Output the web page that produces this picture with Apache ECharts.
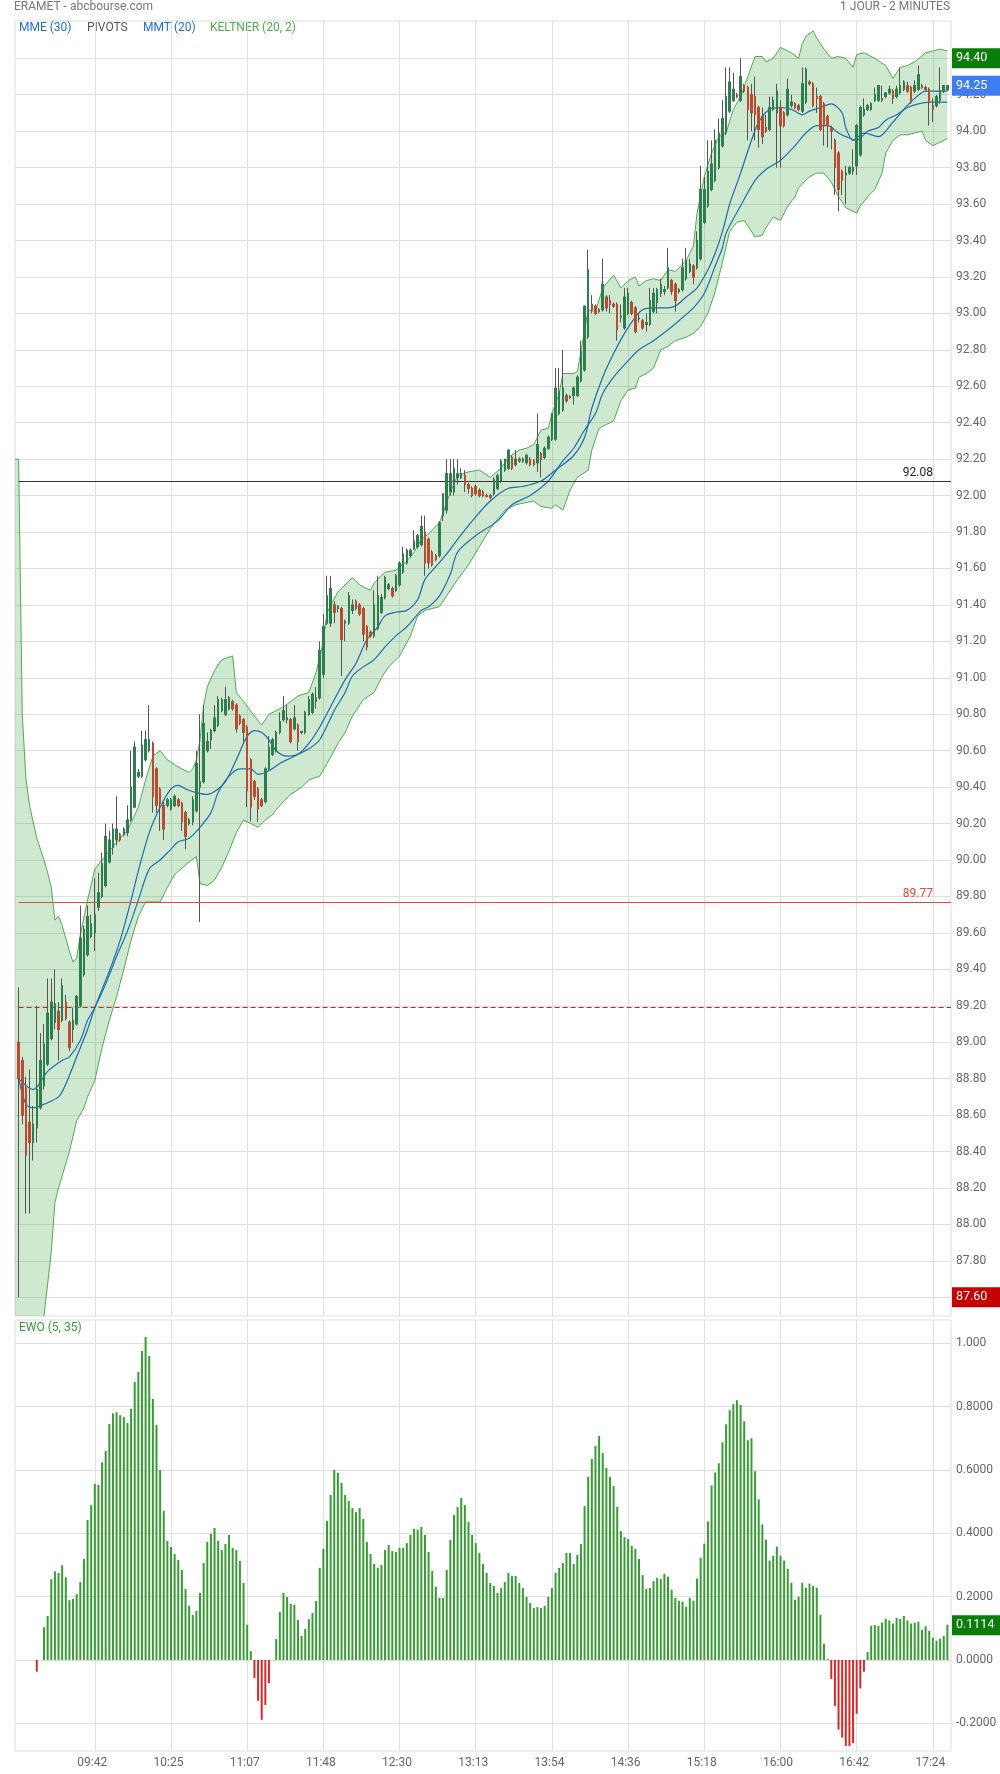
<!DOCTYPE html>
<html><head><meta charset="utf-8">
<script src="https://cdn.jsdelivr.net/npm/echarts@6/dist/echarts.min.js"></script>
<style>html,body{margin:0;padding:0;background:#fff}#c{width:1000px;height:1774px}</style>
</head><body><div id="c"></div>
<script>
// ---------- DATA ----------
const opens = [
89.00,88.90,88.75,88.56,88.45,88.53,88.64,88.76,88.88,89.02,
89.11,89.17,89.12,89.22,89.11,89.07,89.10,89.20,89.37,89.48,
89.58,89.60,89.74,89.80,89.86,89.99,90.07,90.11,90.14,90.14,
90.15,90.22,90.29,90.46,90.46,90.55,90.60,90.64,90.50,90.39,
90.30,90.30,90.28,90.30,90.33,90.31,90.26,90.20,90.21,90.27,
90.40,90.43,90.60,90.66,90.71,90.74,90.82,90.80,90.83,90.87,
90.85,90.79,90.77,90.73,90.55,90.43,90.39,90.33,90.32,90.50,
90.58,90.60,90.70,90.77,90.77,90.77,90.72,90.74,90.70,90.70,
90.80,90.81,90.87,90.89,91.02,91.30,91.30,91.40,91.38,91.38,
91.30,91.30,91.37,91.42,91.40,91.38,91.28,91.25,91.23,91.27,
91.36,91.44,91.49,91.49,91.48,91.51,91.58,91.63,91.67,91.71,
91.72,91.73,91.80,91.76,91.69,91.67,91.67,91.89,91.92,92.02,
92.02,92.10,92.10,92.11,92.06,92.04,92.05,92.03,92.02,92.00,
92.00,92.01,92.04,92.08,92.14,92.15,92.21,92.17,92.20,92.19,
92.18,92.20,92.19,92.18,92.23,92.21,92.26,92.31,92.31,92.45,
92.47,92.55,92.54,92.55,92.55,92.63,92.69,92.87,93.05,93.04,
93.02,93.02,93.09,93.07,93.05,93.05,92.98,92.92,93.00,93.06,
93.03,92.97,92.96,92.94,92.94,93.01,93.06,93.11,93.12,93.14,
93.18,93.16,93.12,93.13,93.19,93.23,93.26,93.25,93.30,93.50,
93.59,93.68,93.73,93.80,93.92,93.99,94.11,94.17,94.20,94.17,
94.25,94.24,94.20,94.19,94.13,94.08,94.02,94.01,94.12,94.10,
94.13,94.10,94.09,94.14,94.15,94.14,94.11,94.16,94.27,94.26,
94.19,94.19,94.15,94.08,94.02,93.95,93.88,93.78,93.76,93.77,
93.78,93.81,93.87,94.09,94.12,94.12,94.17,94.17,94.18,94.19,
94.21,94.22,94.19,94.21,94.23,94.25,94.24,94.22,94.23,94.25,
94.24,94.23,94.14,94.14,94.17,94.22,94.23];
const highs = [
89.30,88.92,88.81,88.85,88.65,89.20,89.05,89.10,89.35,89.35,
89.40,89.22,89.35,89.26,89.12,89.19,89.26,89.75,89.64,89.75,
89.70,89.90,89.93,90.04,90.20,90.16,90.20,90.35,90.15,90.18,
90.30,90.60,90.65,90.50,90.71,90.71,90.85,90.65,90.51,90.40,
90.32,90.34,90.34,90.36,90.34,90.32,90.27,90.23,90.35,90.60,
90.80,90.85,90.70,90.72,90.85,90.90,90.89,90.95,90.90,90.88,
90.86,90.80,90.78,90.74,90.56,90.44,90.40,90.34,90.51,90.68,
90.67,90.71,90.81,90.90,90.85,90.78,90.85,90.75,90.71,90.82,
90.90,90.92,90.95,91.20,91.35,91.56,91.56,91.42,91.40,91.39,
91.32,91.47,91.43,91.43,91.41,91.39,91.29,91.26,91.48,91.56,
91.46,91.56,91.52,91.50,91.57,91.64,91.72,91.71,91.71,91.81,
91.79,91.89,91.89,91.77,91.70,91.68,91.86,92.01,92.20,92.20,
92.20,92.20,92.15,92.14,92.07,92.05,92.06,92.04,92.03,92.01,
92.01,92.10,92.12,92.20,92.20,92.25,92.22,92.25,92.21,92.21,
92.23,92.21,92.20,92.45,92.24,92.27,92.33,92.45,92.70,92.70,
92.80,92.56,92.55,92.60,92.66,92.85,93.04,93.35,93.10,93.05,
93.03,93.30,93.10,93.10,93.06,93.06,93.05,93.14,93.14,93.07,
93.04,93.00,92.97,93.00,93.14,93.14,93.14,93.19,93.15,93.36,
93.19,93.17,93.14,93.30,93.36,93.30,93.27,93.45,93.81,93.75,
93.95,93.95,94.01,94.07,94.17,94.35,94.35,94.32,94.21,94.40,
94.26,94.25,94.26,94.30,94.14,94.13,94.09,94.19,94.19,94.26,
94.17,94.11,94.29,94.20,94.16,94.15,94.35,94.35,94.28,94.27,
94.24,94.20,94.16,94.09,94.03,93.96,93.89,93.79,93.81,93.81,
93.90,94.04,94.14,94.18,94.15,94.16,94.24,94.25,94.25,94.21,
94.25,94.23,94.25,94.35,94.28,94.27,94.25,94.28,94.36,94.26,
94.25,94.24,94.18,94.20,94.35,94.25,94.25];
const lows = [
87.60,88.55,88.06,88.06,88.35,88.45,88.63,88.74,88.87,89.01,
89.07,88.90,89.11,89.12,88.95,89.00,89.09,89.19,89.36,89.47,
89.57,89.50,89.72,89.79,89.85,89.98,90.03,90.08,90.10,90.13,
90.13,90.21,90.29,90.45,90.45,90.54,90.59,90.26,90.26,90.16,
90.11,90.29,90.27,90.29,90.29,90.16,90.06,90.19,90.19,90.26,
89.66,90.42,90.59,90.61,90.70,90.73,90.81,90.79,90.82,90.82,
90.70,90.74,90.65,90.29,90.21,90.33,90.21,90.29,90.31,90.49,
90.57,90.59,90.69,90.76,90.75,90.64,90.71,90.60,90.69,90.69,
90.79,90.80,90.83,90.88,91.00,91.29,91.28,91.30,91.36,91.01,
91.20,91.29,91.35,91.37,91.34,91.20,91.15,91.22,91.22,91.26,
91.35,91.43,91.48,91.44,91.47,91.50,91.57,91.62,91.66,91.70,
91.71,91.72,91.56,91.60,91.61,91.64,91.66,91.86,91.90,92.00,
92.00,92.06,92.09,92.02,92.01,91.99,92.00,91.99,91.99,91.99,
91.98,92.00,92.03,92.07,92.13,92.14,92.14,92.16,92.18,92.18,
92.17,92.16,92.16,92.13,92.10,92.20,92.25,92.30,92.30,92.44,
92.46,92.51,92.53,92.50,92.54,92.62,92.68,92.86,93.00,92.99,
93.00,93.01,93.01,93.00,93.03,92.85,92.95,92.91,92.99,92.99,
92.89,92.95,92.91,92.90,92.93,93.00,93.00,93.09,93.10,93.13,
93.10,93.01,93.11,93.12,93.18,93.22,93.16,93.24,93.29,93.49,
93.58,93.67,93.72,93.79,93.91,93.98,94.10,94.16,94.18,94.16,
94.21,93.95,94.00,93.95,93.91,93.93,93.99,94.00,94.11,93.80,
93.80,94.02,94.08,94.13,94.12,94.11,94.10,94.15,94.25,94.13,
94.10,94.00,93.92,93.91,93.90,93.65,93.56,93.65,93.60,93.76,
93.76,93.76,93.86,94.08,94.11,94.11,94.16,94.16,94.16,94.18,
94.20,94.15,94.18,94.20,94.22,94.21,94.15,94.21,94.22,94.23,
94.22,94.03,94.05,94.13,94.15,94.21,94.22];
const closes = [
88.80,88.60,88.38,88.45,88.55,88.74,88.90,88.99,89.16,89.22,
89.21,89.07,89.31,89.13,88.97,89.12,89.25,89.57,89.62,89.69,
89.65,89.70,89.82,89.98,90.13,90.11,90.17,90.17,90.11,90.17,
90.22,90.40,90.62,90.48,90.63,90.66,90.66,90.35,90.30,90.31,
90.17,90.33,90.33,90.35,90.30,90.21,90.13,90.22,90.33,90.53,
90.43,90.75,90.65,90.71,90.78,90.88,90.88,90.88,90.89,90.83,
90.72,90.75,90.70,90.38,90.29,90.35,90.28,90.30,90.50,90.62,
90.66,90.70,90.76,90.82,90.78,90.65,90.78,90.65,90.705,90.81,
90.88,90.91,90.89,91.15,91.28,91.45,91.49,91.36,91.39,91.21,
91.31,91.45,91.40,91.38,91.35,91.24,91.17,91.23,91.40,91.45,
91.44,91.55,91.51,91.45,91.56,91.63,91.68,91.70,91.70,91.75,
91.78,91.83,91.63,91.63,91.62,91.65,91.85,92.01,92.12,92.12,
92.15,92.12,92.12,92.06,92.04,92.00,92.01,92.00,92.00,91.995,
91.99,92.09,92.11,92.19,92.20,92.25,92.15,92.20,92.19,92.20,
92.22,92.17,92.17,92.28,92.20,92.26,92.32,92.45,92.59,92.57,
92.59,92.52,92.545,92.59,92.65,92.79,93.04,93.24,93.02,93.00,
93.01,93.16,93.03,93.05,93.04,92.91,92.985,93.09,93.11,93.00,
92.90,92.975,92.92,92.95,93.07,93.11,93.13,93.16,93.13,93.25,
93.12,93.07,93.13,93.25,93.29,93.27,93.20,93.40,93.68,93.68,
93.78,93.82,93.95,93.99,94.07,94.19,94.27,94.23,94.19,94.30,
94.22,94.12,94.10,94.09,94.01,93.97,94.00,94.13,94.17,94.22,
94.03,94.03,94.23,94.16,94.13,94.12,94.26,94.34,94.26,94.14,
94.18,94.01,94.03,94.03,94.00,93.80,93.68,93.73,93.77,93.80,
93.80,94.03,94.13,94.12,94.14,94.15,94.20,94.25,94.17,94.21,
94.23,94.18,94.23,94.25,94.27,94.22,94.16,94.25,94.31,94.24,
94.23,94.16,94.12,94.19,94.22,94.25,94.25];
const ewo = [
null,null,null,null,null,-0.037,0,0.103,0.139,0.255,
0.28,0.274,0.299,0.261,0.189,0.193,0.208,0.246,0.319,0.442,
0.489,0.556,0.553,0.624,0.66,0.745,0.779,0.782,0.773,0.767,
0.748,0.793,0.878,0.909,0.976,1.02,0.96,0.824,0.742,0.6,
0.471,0.376,0.357,0.335,0.316,0.284,0.224,0.171,0.142,0.155,
0.212,0.306,0.373,0.398,0.417,0.376,0.347,0.366,0.395,0.354,
0.347,0.313,0.243,0.111,0.028,-0.057,-0.129,-0.189,-0.142,-0.073,
0,0.066,0.152,0.212,0.199,0.177,0.174,0.126,0.076,0.098,
0.129,0.148,0.186,0.291,0.351,0.439,0.521,0.6,0.591,0.559,
0.521,0.502,0.48,0.467,0.48,0.445,0.373,0.335,0.303,0.291,
0.3,0.347,0.363,0.344,0.341,0.354,0.354,0.369,0.395,0.414,
0.411,0.42,0.395,0.341,0.281,0.231,0.196,0.196,0.284,0.379,
0.458,0.483,0.512,0.489,0.436,0.395,0.369,0.338,0.303,0.275,
0.243,0.234,0.212,0.227,0.246,0.275,0.265,0.265,0.243,0.227,
0.199,0.18,0.164,0.167,0.164,0.171,0.199,0.227,0.275,0.291,
0.306,0.338,0.338,0.303,0.332,0.366,0.486,0.578,0.635,0.676,
0.707,0.654,0.606,0.578,0.549,0.483,0.407,0.388,0.382,0.36,
0.351,0.319,0.268,0.224,0.227,0.249,0.259,0.256,0.272,0.263,
0.222,0.196,0.187,0.184,0.168,0.196,0.187,0.257,0.323,0.367,
0.437,0.551,0.592,0.621,0.687,0.744,0.789,0.808,0.82,0.805,
0.754,0.694,0.7,0.596,0.507,0.428,0.38,0.314,0.329,0.358,
0.329,0.314,0.288,0.244,0.19,0.2,0.244,0.228,0.241,0.234,
0.228,0.143,0.051,0.003,-0.06,-0.145,-0.22,-0.245,-0.272,-0.272,
-0.262,-0.17,-0.09,-0.037,0.025,0.108,0.11,0.108,0.118,0.13,
0.125,0.115,0.133,0.13,0.139,0.125,0.115,0.118,0.121,0.095,
0.106,0.092,0.07,0.061,0.067,0.076,0.1114];
// [bar index, value] samples
const keltnerUpper = [[-1,92.2],[0,92.2],[1,90.8],[2,90.45],[3,90.3],[5,90.12],[7,90.0],[8,89.93],[9,89.85],[10,89.67],[11,89.69],[12,89.64],[14,89.5],[15,89.44],[16,89.46],[17,89.59],[19,89.78],[21,89.95],[23,90.0],[25,90.05],[28,90.12],[30,90.16],[33,90.29],[35,90.44],[37,90.57],[39,90.6],[41,90.55],[44,90.51],[47,90.48],[48,90.5],[49,90.55],[50,90.66],[51,90.85],[52,90.95],[54,91.04],[56,91.1],[59,91.12],[60,90.92],[62,90.87],[65,90.79],[67,90.74],[69,90.8],[71,90.82],[73,90.84],[77,90.9],[80,90.92],[82,91.03],[84,91.2],[85,91.36],[88,91.47],[92,91.55],[94,91.51],[97,91.48],[98,91.52],[100,91.56],[101,91.58],[104,91.59],[107,91.64],[109,91.69],[111,91.76],[113,91.79],[116,91.85],[119,92.02],[121,92.11],[124,92.13],[127,92.14],[130,92.1],[133,92.15],[135,92.21],[138,92.25],[140,92.26],[142,92.28],[144,92.36],[146,92.37],[147,92.45],[149,92.56],[150,92.67],[153,92.67],[154,92.68],[155,92.79],[156,92.91],[157,93.02],[159,93.01],[161,93.14],[164,93.21],[166,93.14],[168,93.18],[170,93.2],[171,93.15],[173,93.18],[175,93.19],[177,93.18],[179,93.24],[181,93.23],[182,93.25],[184,93.29],[186,93.37],[187,93.55],[189,93.75],[191,93.88],[193,93.97],[195,93.99],[197,94.12],[199,94.19],[201,94.3],[203,94.41],[205,94.41],[206,94.38],[208,94.4],[210,94.46],[211,94.45],[213,94.43],[215,94.4],[216,94.48],[217,94.52],[219,94.55],[220,94.51],[222,94.45],[224,94.4],[226,94.41],[228,94.4],[230,94.35],[231,94.42],[233,94.43],[236,94.4],[239,94.36],[241,94.29],[243,94.35],[245,94.36],[247,94.38],[250,94.43],[252,94.44],[254,94.45],[256,94.44]];
const keltnerLower = [[-1,86.0],[0,86.2],[3,86.7],[5,87.1],[7,87.5],[9,87.85],[10,88.12],[11,88.2],[14,88.4],[16,88.57],[18,88.64],[19,88.7],[21,88.79],[23,88.97],[25,89.12],[27,89.25],[29,89.4],[31,89.56],[33,89.69],[35,89.77],[39,89.77],[41,89.85],[43,89.92],[47,89.99],[49,90.02],[50,89.87],[52,89.86],[54,89.89],[56,89.96],[58,90.05],[60,90.15],[62,90.22],[64,90.2],[66,90.18],[68,90.22],[70,90.25],[72,90.3],[75,90.36],[78,90.4],[80,90.44],[83,90.46],[85,90.53],[87,90.6],[88,90.64],[90,90.7],[92,90.79],[95,90.88],[98,90.92],[100,91.0],[102,91.06],[105,91.12],[108,91.23],[110,91.34],[112,91.37],[114,91.38],[116,91.39],[118,91.45],[121,91.54],[124,91.62],[127,91.72],[130,91.82],[134,91.92],[137,91.95],[142,91.97],[144,91.94],[147,91.93],[148,91.95],[150,91.92],[152,92.03],[154,92.1],[157,92.14],[158,92.25],[160,92.37],[162,92.39],[164,92.41],[166,92.52],[168,92.58],[170,92.59],[171,92.65],[173,92.67],[175,92.7],[177,92.8],[179,92.82],[181,92.85],[184,92.87],[186,92.89],[188,92.93],[190,93.0],[192,93.12],[194,93.28],[196,93.45],[198,93.5],[200,93.51],[201,93.48],[203,93.42],[205,93.43],[206,93.47],[208,93.53],[210,93.51],[212,93.59],[214,93.64],[215,93.69],[218,93.75],[220,93.77],[222,93.77],[224,93.72],[226,93.64],[228,93.58],[231,93.55],[232,93.59],[234,93.64],[236,93.68],[238,93.77],[239,93.88],[241,93.95],[243,93.98],[245,93.98],[247,93.99],[249,94.0],[250,93.95],[252,93.92],[254,93.94],[256,93.96]];
const mmt20 = [[0,88.8],[2,88.66],[4,88.64],[7,88.66],[11,88.7],[13,88.77],[16,88.92],[19,89.07],[21,89.19],[25,89.39],[28,89.56],[31,89.78],[33,89.94],[36,90.15],[39,90.29],[42,90.39],[44,90.41],[46,90.39],[49,90.37],[52,90.36],[55,90.39],[57,90.43],[60,90.55],[63,90.68],[65,90.71],[67,90.7],[69,90.66],[71,90.6],[74,90.57],[77,90.58],[80,90.64],[83,90.73],[87,90.88],[90,90.99],[93,91.08],[96,91.21],[99,91.28],[101,91.34],[104,91.36],[107,91.37],[110,91.43],[112,91.54],[115,91.61],[118,91.68],[121,91.76],[125,91.86],[130,91.97],[135,92.04],[139,92.05],[144,92.08],[148,92.14],[153,92.22],[156,92.32],[158,92.48],[161,92.65],[164,92.78],[167,92.89],[170,92.98],[172,93.02],[175,93.03],[179,93.03],[181,93.04],[184,93.09],[187,93.14],[190,93.24],[192,93.33],[194,93.45],[196,93.6],[199,93.77],[202,93.95],[204,94.05],[207,94.12],[210,94.13],[213,94.12],[216,94.09],[218,94.11],[221,94.13],[224,94.15],[227,94.1],[228,94.02],[230,93.95],[233,93.99],[237,93.97],[241,94.05],[244,94.12],[247,94.18],[250,94.22],[253,94.22],[256,94.22]];
const mme30 = [[0,88.8],[4,88.74],[8,88.84],[12,88.9],[14,88.92],[17,89.01],[19,89.12],[21,89.19],[24,89.32],[27,89.47],[30,89.61],[33,89.78],[36,89.95],[39,90.0],[42,90.06],[44,90.1],[47,90.12],[50,90.18],[53,90.26],[55,90.37],[58,90.46],[61,90.5],[64,90.5],[66,90.47],[69,90.49],[72,90.53],[75,90.56],[77,90.58],[80,90.61],[83,90.66],[87,90.82],[90,90.92],[92,91.01],[95,91.06],[98,91.1],[101,91.17],[104,91.23],[107,91.28],[111,91.37],[113,91.39],[116,91.45],[119,91.57],[121,91.69],[126,91.78],[132,91.86],[136,91.95],[141,92.0],[146,92.08],[150,92.19],[153,92.26],[156,92.36],[159,92.45],[161,92.56],[164,92.65],[168,92.74],[171,92.8],[175,92.85],[179,92.91],[182,92.96],[186,93.03],[189,93.11],[192,93.26],[194,93.36],[195,93.44],[199,93.59],[203,93.73],[206,93.79],[210,93.84],[214,93.92],[217,93.99],[220,94.03],[223,94.03],[226,93.99],[228,93.97],[231,93.95],[234,94.0],[237,94.02],[239,94.06],[242,94.09],[245,94.13],[248,94.15],[251,94.16],[253,94.16],[256,94.16]];
const pivotHigh = 92.08, pivotMid = 89.77, pivotLow = 89.19;
const dayHigh = 94.40, lastPrice = 94.25, dayLow = 87.60, lastEwo = 0.1114;
const priceTicks = [87.6,87.8,88.0,88.2,88.4,88.6,88.8,89.0,89.2,89.4,89.6,89.8,90.0,90.2,90.4,90.6,90.8,91.0,91.2,91.4,91.6,91.8,92.0,92.2,92.4,92.6,92.8,93.0,93.2,93.4,93.6,93.8,94.0,94.2,94.4];
const ewoTicks = [-0.2,0,0.2,0.4,0.6,0.8,1.0];
const timeTickIndex = [21,42,63,84,105,126,147,168,189,210,231,252];
const timeTickLabels = ['09:42','10:25','11:07','11:48','12:30','13:13','13:54','14:36','15:18','16:00','16:42','17:24'];

// ---------- BUILD ----------
const N = opens.length;
const cats = []; for (let i = -1; i <= N; i++) cats.push(String(i));
const ci = i => i + 1;
const labelMap = {}; timeTickIndex.forEach((t, k) => labelMap[t] = timeTickLabels[k]);
const tickSet = new Set(timeTickIndex);
const isTick = (index) => tickSet.has(index - 1);
const EMPTY = ['-','-','-','-'];
const wickData = [EMPTY].concat(opens.map((o,i)=>[o, closes[i], lows[i], highs[i]]), [EMPTY]);
const bodyData = [EMPTY].concat(opens.map((o,i)=>[o, closes[i], Math.min(o,closes[i]), Math.max(o,closes[i])]), [EMPTY]);
const ewoData = ['-'].concat(ewo.map(v => v === null ? '-' : v), ['-']);
const toCat = arr => arr.map(([i,v]) => [ci(i), v]);
const labelPriceTicks = priceTicks.filter(v => v !== dayHigh && v !== dayLow);

const GRID = '#dedede', TXT = '#666', F = 'Roboto';
const UP = '#2e7d4f', DOWN = '#bb4a30';
const box = (val, txt, bg) => ({yAxis: val, lineStyle:{color:'rgba(0,0,0,0)', width:0}, label:{show:true, position:'end', formatter: txt, color:'#fff', backgroundColor:bg, padding:[4,16,3,4], fontSize:12.5, fontFamily:F, distance:1}});

const chart = echarts.init(document.getElementById('c'), null, {renderer:'canvas'});
chart.setOption({
  animation:false,
  backgroundColor:'#fff',
  textStyle:{fontFamily:F},
  grid:[
    {left:15, right:49, top:21, height:1295, show:true, borderColor:GRID, borderWidth:1, containLabel:false, outerBoundsMode:'none'},
    {left:15, right:49, top:1320, height:431, show:true, borderColor:GRID, borderWidth:1, containLabel:false, outerBoundsMode:'none'}
  ],
  xAxis:[
    {type:'category', gridIndex:0, data:cats, boundaryGap:false, axisLine:{show:false}, axisTick:{show:false}, axisLabel:{show:false},
     splitLine:{show:true, interval:isTick, lineStyle:{color:GRID, width:1}}},
    {type:'category', gridIndex:1, data:cats, boundaryGap:false, axisLine:{show:false}, axisTick:{show:false},
     axisLabel:{show:true, interval:isTick, formatter:(v)=>labelMap[Number(v)]||'', color:TXT, fontSize:12, margin:6, padding:[0,5,0,0]},
     splitLine:{show:true, interval:isTick, lineStyle:{color:GRID, width:1}}}
  ],
  yAxis:[
    {type:'value', gridIndex:0, position:'right', min:87.4974, max:94.6047, scale:true,
     axisLine:{show:false}, axisTick:{show:false, customValues:priceTicks},
     axisLabel:{customValues:labelPriceTicks, formatter:v=>v.toFixed(2), color:TXT, fontSize:12, margin:5},
     splitLine:{show:true, lineStyle:{color:GRID, width:1}}},
    {type:'value', gridIndex:1, position:'right', min:-0.2875, max:1.0736,
     axisLine:{show:false}, axisTick:{show:false, customValues:ewoTicks},
     axisLabel:{customValues:ewoTicks, formatter:v=> (v >= 0.999 ? v.toFixed(3) : v.toFixed(4)), color:TXT, fontSize:12, margin:5},
     splitLine:{show:true, lineStyle:{color:GRID, width:1}}}
  ],
  series:[
    {type:'custom', xAxisIndex:0, yAxisIndex:0, z:1, silent:true, data:[[1, 90]],
     renderItem:(params, api)=>{
       const cs = params.coordSys;
       const cy = y => Math.max(cs.y, Math.min(cs.y + cs.height, y));
       const pts = [];
       keltnerUpper.forEach(([i,v])=>{const p = api.coord([ci(i), v]); pts.push([p[0], cy(p[1])]);});
       for (let k = keltnerLower.length-1; k >= 0; k--) {const [i,v] = keltnerLower[k]; const p = api.coord([ci(i), v]); pts.push([p[0], cy(p[1])]);}
       return {type:'polygon', shape:{points:pts}, style:{fill:'rgba(76,175,80,0.27)'}};
     }},
    {type:'line', xAxisIndex:0, yAxisIndex:0, z:2, data:toCat(keltnerUpper), showSymbol:false, symbol:'none', lineStyle:{color:'#52a852', width:1}, silent:true},
    {type:'line', xAxisIndex:0, yAxisIndex:0, z:2, data:toCat(keltnerLower), showSymbol:false, symbol:'none', lineStyle:{color:'#52a852', width:1}, silent:true},
    {type:'line', xAxisIndex:0, yAxisIndex:0, z:3, data:toCat(mme30), showSymbol:false, symbol:'none', smooth:0.3, lineStyle:{color:'#2070b0', width:1.2}, silent:true,
     markLine:{silent:true, symbol:['none','none'], animation:false, data:[
       [{coord:[ci(0), pivotHigh], lineStyle:{color:'#333', width:1, type:'solid'}, label:{show:true, position:'insideEndTop', formatter:pivotHigh.toFixed(2), color:'#222', fontSize:12, fontFamily:F, distance:[18,2]}},
        {coord:[ci(N), pivotHigh]}],
       [{coord:[ci(0), pivotMid], lineStyle:{color:'#e8453c', width:1, type:'solid'}, label:{show:true, position:'insideEndTop', formatter:pivotMid.toFixed(2), color:'#e8453c', fontSize:12, fontFamily:F, distance:[18,2]}},
        {coord:[ci(N), pivotMid]}],
       [{coord:[ci(0), pivotLow], lineStyle:{color:'#d42020', width:1, type:[5,3]}, label:{show:false}},
        {coord:[ci(N), pivotLow]}]
     ]}},
    {type:'line', xAxisIndex:0, yAxisIndex:0, z:3, data:toCat(mmt20), showSymbol:false, symbol:'none', smooth:0.3, lineStyle:{color:'#1f6aa8', width:1.2}, silent:true,
     markLine:{silent:true, symbol:['none','none'], animation:false, data:[
       box(dayHigh, '94.40', '#0b7d0b'),
       box(lastPrice, '94.25', '#3f7cf2'),
       box(dayLow, '87.60', '#c40000')
     ]}},
    {type:'candlestick', xAxisIndex:0, yAxisIndex:0, z:4, data:wickData, barWidth:2, silent:true,
     itemStyle:{color:'rgba(0,0,0,0)', color0:'rgba(0,0,0,0)', borderColor:'#555', borderColor0:'#555', borderColorDoji:'#555', borderWidth:1}},
    {type:'candlestick', xAxisIndex:0, yAxisIndex:0, z:5, data:bodyData, barWidth:2, silent:true,
     itemStyle:{color:UP, color0:DOWN, borderColor:UP, borderColor0:DOWN, borderWidth:1}},
    {type:'bar', xAxisIndex:1, yAxisIndex:1, z:3, data:ewoData, barWidth:2, silent:true,
     itemStyle:{color:(p)=> (p.value < 0 ? '#d42a2a' : '#389c34')},
     markLine:{silent:true, symbol:['none','none'], animation:false, data:[box(lastEwo, '0.1114', '#0b7d0b')]}}
  ],
  graphic:[
    {type:'text', left:14, top:1, style:{text:'ERAMET - abcbourse.com', font:'12px Roboto', fill:'#777'}},
    {type:'text', right:50, top:1, style:{text:'1 JOUR - 2 MINUTES', font:'12px Roboto', fill:'#777'}},
    {type:'text', left:19, top:22, style:{text:'MME (30)', font:'12px Roboto', fill:'#1f6fd0'}},
    {type:'text', left:87, top:22, style:{text:'PIVOTS', font:'12px Roboto', fill:'#555'}},
    {type:'text', left:143, top:22, style:{text:'MMT (20)', font:'12px Roboto', fill:'#1f6fd0'}},
    {type:'text', left:210, top:22, style:{text:'KELTNER (20, 2)', font:'12px Roboto', fill:'#4cae4c'}},
    {type:'text', left:19, top:1322, style:{text:'EWO (5, 35)', font:'12px Roboto', fill:'#3a9a3a'}}
  ]
});
</script></body></html>
